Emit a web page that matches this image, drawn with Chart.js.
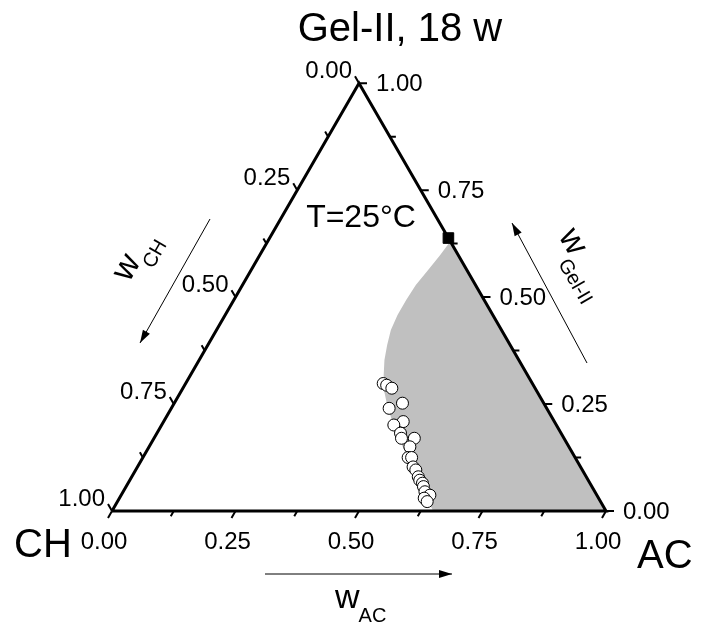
<!DOCTYPE html>
<html>
<head>
<meta charset="utf-8">
<script src="https://cdn.jsdelivr.net/npm/chart.js@4.4.0/dist/chart.umd.min.js"></script>
<style>
  html, body { margin: 0; padding: 0; background: #fff; }
  canvas { display: block; }
</style>
</head>
<body>
<canvas id="ternario" width="702" height="623"></canvas>
<script>
const H = Math.sqrt(3) / 2;

// Marcas de los tres ejes
const mainTicks = [0, 0.25, 0.5, 0.75, 1];
const minorTicks = [0.125, 0.375, 0.625, 0.875];
const tickLabels = ["0.00", "0.25", "0.50", "0.75", "1.00"];

// Puntos medidos (w_AC, w_Gel-II)
const expAC  = [0.400, 0.409, 0.423, 0.462, 0.441, 0.485, 0.470, 0.493, 0.527, 0.501, 0.528, 0.537,
                0.544, 0.558, 0.567, 0.580, 0.587, 0.596, 0.602, 0.611, 0.625, 0.617, 0.627];
const expGel = [0.298, 0.294, 0.287, 0.252, 0.240, 0.209, 0.201, 0.182, 0.170, 0.170, 0.150, 0.125,
                0.125, 0.103, 0.096, 0.080, 0.072, 0.065, 0.057, 0.045, 0.037, 0.030, 0.022];

// Zona gris (borde izquierdo, de abajo hacia arriba, luego vertice AC)
const zoneAC  = [0.650, 0.605, 0.561, 0.510, 0.460, 0.433, 0.409, 0.391, 0.375, 0.363, 0.353, 0.349,
                 0.349, 0.351, 0.358, 0.365, 0.369, 0.362, 1.0];
const zoneGel = [0.000, 0.049, 0.096, 0.154, 0.213, 0.248, 0.283, 0.318, 0.353, 0.388, 0.423, 0.458,
                 0.493, 0.528, 0.563, 0.598, 0.626, 0.638, 0.0];

// Punto sobre el lado AC - Gel-II
const tieAC = [0.362];
const tieGel = [0.638];

function toXY(ac, gel) {
  return { x: ac + gel / 2, y: gel * H };
}

const UNIT = 494; // px por unidad
const LMAJ = 8 / UNIT;
const LMIN = 6 / UNIT;

// segmentos de marcas
const tickData = [];
const gap = { x: NaN, y: NaN };
function addTick(v, len) {
  let p = toXY(v, 0);
  tickData.push(p, { x: p.x - 0.5 * len, y: p.y - H * len }, gap);
  p = toXY(1 - v, v);
  tickData.push(p, { x: p.x + len, y: p.y }, gap);
  p = toXY(0, 1 - v);
  tickData.push(p, { x: p.x - 0.5 * len, y: p.y + H * len }, gap);
}
mainTicks.forEach((v) => addTick(v, LMAJ));
minorTicks.forEach((v) => addTick(v, LMIN));

const frame = [toXY(0, 0), toXY(1, 0), toXY(0, 1), toXY(0, 0)];

// flechas de los ejes (en px, se pasan a unidades del grafico)
const pxToXY = (px, py) => ({ x: (px - 112) / UNIT, y: (511 - py) / UNIT });
const arrows = [
  [pxToXY(265, 574), pxToXY(452, 574)],
  [pxToXY(210, 219), pxToXY(140, 343)],
  [pxToXY(587, 363), pxToXY(512, 223)],
];
const arrowData = [];
arrows.forEach((a) => arrowData.push(a[0], a[1], gap));

const FONT = '"Liberation Sans", Arial, sans-serif';

const textPlugin = {
  id: "textos",
  afterDatasetsDraw(chart) {
    const ctx = chart.ctx;
    const sx = chart.scales.x, sy = chart.scales.y;
    const px = (p) => [sx.getPixelForValue(p.x), sy.getPixelForValue(p.y)];
    ctx.save();
    ctx.fillStyle = "#000";
    ctx.font = `24px ${FONT}`;
    ctx.textBaseline = "middle";

    mainTicks.forEach((v, i) => {
      let [x, y] = px(toXY(v, 0));
      ctx.textAlign = "center";
      ctx.fillText(tickLabels[i], x - 8, y + 31);
      [x, y] = px(toXY(1 - v, v));
      ctx.textAlign = "left";
      ctx.fillText(tickLabels[i], x + 17, y + 1);
      [x, y] = px(toXY(0, 1 - v));
      ctx.textAlign = "right";
      ctx.fillText(tickLabels[i], x - 7, y - 12);
    });

    // puntas de flecha
    arrows.forEach((a) => {
      const [x0, y0] = px(a[0]);
      const [x1, y1] = px(a[1]);
      const ang = Math.atan2(y1 - y0, x1 - x0);
      ctx.save();
      ctx.translate(x1, y1);
      ctx.rotate(ang);
      ctx.beginPath();
      ctx.moveTo(0, 0);
      ctx.lineTo(-13, -4);
      ctx.lineTo(-13, 4);
      ctx.closePath();
      ctx.fill();
      ctx.restore();
    });

    // titulos
    ctx.textAlign = "center";
    ctx.font = `40px ${FONT}`;
    ctx.fillText("Gel-II, 18 w", 400, 30);
    ctx.textAlign = "left";
    ctx.fillText("CH", 14, 546);
    ctx.fillText("AC", 637, 557);
    ctx.textAlign = "center";
    ctx.font = `32px ${FONT}`;
    ctx.fillText("T=25\u00B0C", 361, 218);

    function wLabel(x, y, rot, sub) {
      ctx.save();
      ctx.translate(x, y);
      ctx.rotate(rot);
      ctx.textAlign = "left";
      ctx.textBaseline = "alphabetic";
      ctx.font = `34px ${FONT}`;
      ctx.fillText("w", 0, 0);
      const w = ctx.measureText("w").width;
      ctx.font = `20px ${FONT}`;
      ctx.fillText(sub, w - 1, 14);
      ctx.restore();
    }
    wLabel(335, 608, 0, "AC");
    wLabel(129, 283, -Math.PI / 3, "CH");
    wLabel(558, 236, Math.PI / 3, "Gel-II");
    ctx.restore();
  },
};

const ctx = document.getElementById("ternario").getContext("2d");
new Chart(ctx, {
  type: "scatter",
  data: {
    datasets: [
      {
        data: zoneAC.map((a, i) => toXY(a, zoneGel[i])),
        showLine: true,
        borderWidth: 0,
        pointRadius: 0,
        fill: "shape",
        backgroundColor: "#c0c0c0",
        order: 6,
      },
      {
        data: frame,
        showLine: true,
        borderColor: "#000",
        borderWidth: 3,
        pointRadius: 0,
        borderJoinStyle: "miter",
        order: 4,
      },
      {
        data: tickData,
        showLine: true,
        spanGaps: false,
        borderColor: "#000",
        borderWidth: 2,
        pointRadius: 0,
        order: 5,
      },
      {
        data: arrowData,
        showLine: true,
        spanGaps: false,
        borderColor: "#000",
        borderWidth: 1,
        pointRadius: 0,
        order: 5,
      },
      {
        data: expAC.map((a, i) => toXY(a, expGel[i])),
        pointRadius: 6,
        pointBackgroundColor: "#fff",
        pointBorderColor: "#000",
        pointBorderWidth: 1,
        order: 1,
      },
      {
        data: tieAC.map((a, i) => toXY(a, tieGel[i])),
        pointStyle: "rect",
        pointRadius: 7.5,
        pointBackgroundColor: "#000",
        pointBorderColor: "#000",
        order: 0,
      },
    ],
  },
  options: {
    responsive: false,
    animation: false,
    events: [],
    layout: { padding: 0, autoPadding: false },
    plugins: { legend: { display: false }, tooltip: { enabled: false } },
    scales: {
      x: { type: "linear", display: false, min: -112 / UNIT, max: (702 - 112) / UNIT },
      y: { type: "linear", display: false, min: -(623 - 511) / UNIT, max: 511 / UNIT },
    },
  },
  plugins: [textPlugin],
});
</script>
</body>
</html>
